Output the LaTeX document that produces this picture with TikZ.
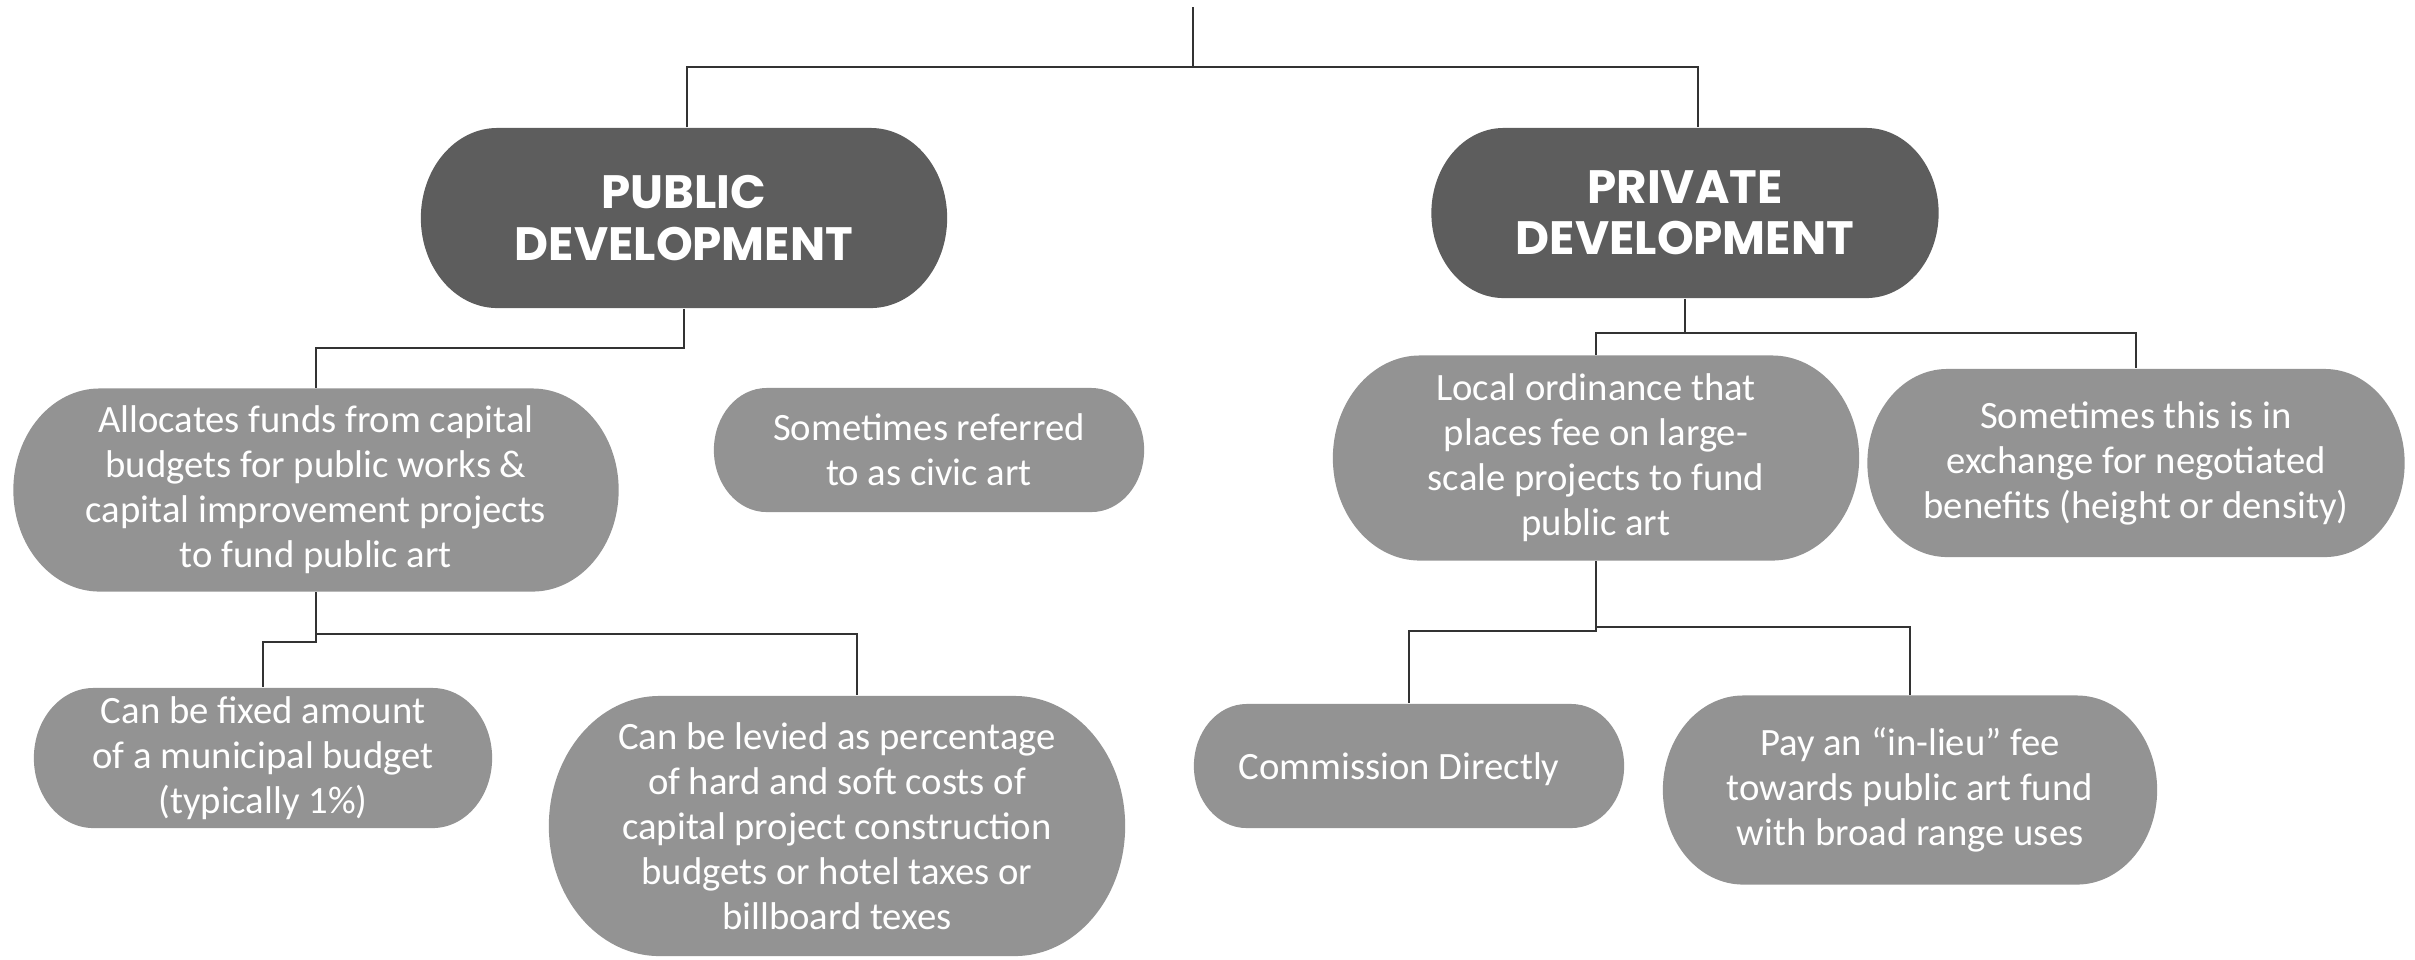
\documentclass[tikz,border=0pt]{standalone}
\usepackage{fontspec}
\setmainfont{Carlito}
\newfontfamily\headfont{Poppins}
\usetikzlibrary{calc}

\definecolor{darkpill}{HTML}{5D5D5D}
\definecolor{lightpill}{HTML}{939393}

\begin{document}
\begin{tikzpicture}[x=0.01cm,y=-0.01cm,
    pill/.style={inner sep=0pt,align=center,text=white,
      path picture={\fill[#1] let \p1=(path picture bounding box.north west),
        \p2=(path picture bounding box.south east),
        \n1={(\y1-\y2)/2}, \n2={\pillbend*\n1} in
        (\x1+\n2,\y1) -- (\x2-\n2,\y1)
        arc[start angle=90,end angle=-90,x radius=\n2,y radius=\n1]
        -- (\x1+\n2,\y2)
        arc[start angle=270,end angle=90,x radius=\n2,y radius=\n1] -- cycle;}},
    headpill/.style={pill=darkpill,font=\headsize\headfont\bfseries},
    infopill/.style={pill=lightpill,font=\bodysize},
    link/.style={draw=black!80,line width=0.6pt}]
    \pgfmathsetmacro{\pillbend}{0.85}
    \providecommand{\headsize}{\fontsize{13.3pt}{14.6pt}\selectfont}
    \providecommand{\bodysize}{\fontsize{11pt}{12.8pt}\selectfont}
    \useasboundingbox (0,0) rectangle (2415,959);
    % top level
    \node[headpill,minimum width=5.26cm,minimum height=1.80cm] (public) at (684,218) {PUBLIC\\DEVELOPMENT};
    \node[headpill,minimum width=5.07cm,minimum height=1.70cm] (private) at (1685,213) {PRIVATE\\DEVELOPMENT};
    % public side
    \node[infopill,minimum width=6.05cm,minimum height=2.03cm] (alloc) at (316,490) {Allocates funds from capital\\budgets for public works \&\\capital improvement projects\\to fund public art};
    \node[infopill,minimum width=4.30cm,minimum height=1.24cm] (civic) at (929,450) {Sometimes referred\\to as civic art};
    \node[infopill,minimum width=4.58cm,minimum height=1.40cm] (fixed) at (263,758) {Can be fixed amount\\of a municipal budget\\(typically 1\%)};
    \node[infopill,minimum width=5.76cm,minimum height=2.60cm] (levied) at (837,826) {Can be levied as percentage\\of hard and soft costs of\\capital project construction\\budgets or hotel taxes or\\billboard texes};
    % private side
    \node[infopill,minimum width=5.26cm,minimum height=2.05cm] (local) at (1596,458) {Local ordinance that\\places fee on large-\\scale projects to fund\\public art};
    \node[infopill,minimum width=5.37cm,minimum height=1.88cm] (exchange) at (2136,463) {Sometimes this is in\\exchange for negotiated\\benefits (height or density)};
    \node[infopill,minimum width=4.30cm,minimum height=1.24cm,text depth=0pt] (commission) at (1409,766) {\hspace*{-0.2cm}Commission Directly};
    \node[infopill,minimum width=4.94cm,minimum height=1.89cm] (pay) at (1910,790) {Pay an “in-lieu” fee\\towards public art fund\\with broad range uses};
    % connectors
    \coordinate (root) at (1193,7);
    \coordinate (split) at (1193,67);
    \draw[link] (root) -- (split);
    \draw[link] ([xshift=0.03cm]public.north) |- (split) -| ([xshift=0.13cm]private.north);
    \draw[link] (public.south) -- ++(0,39) -| (alloc.north);
    \draw[link] (alloc.south) -- ++(0,42) -| ([xshift=0.2cm]levied.north);
    \draw[link] (alloc.south) -- ++(0,50) -| (fixed.north);
    \draw[link] (private.south) -- ++(0,34) -| (local.north);
    \draw[link] (private.south) -- ++(0,34) -| (exchange.north);
    \draw[link] (local.south) -- ++(0,66) -| (pay.north);
    \draw[link] (local.south) -- ++(0,70) -| (commission.north);
\end{tikzpicture}
\end{document}
